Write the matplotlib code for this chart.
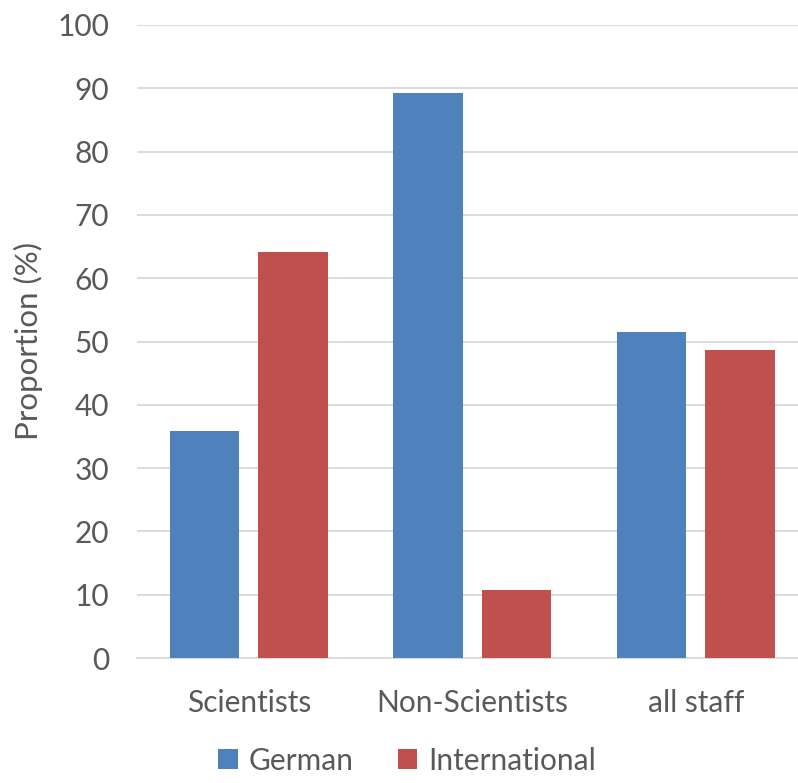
import numpy as np
import matplotlib.pyplot as plt

plt.rcParams['font.family'] = ['Lato', 'DejaVu Sans']

categories = ["Scientists", "Non-Scientists", "all staff"]
german = [35.9, 89.3, 51.5]
international = [64.1, 10.7, 48.6]
yticks = [0, 10, 20, 30, 40, 50, 60, 70, 80, 90, 100]

grey = "#595959"
fig = plt.figure(figsize=(7.98, 7.83), dpi=100)
ax = fig.add_axes([137 / 798, 1 - 658 / 783, 661 / 798, 633 / 783])

x = np.arange(len(categories))
w = 0.309
off = 0.198
ax.bar(x - off, german, w, color="#4F81BD", label="German", zorder=3)
ax.bar(x + off, international, w, color="#C0504D", label="International", zorder=3)

ax.set_xlim(-0.5, -0.5 + 661 / 223.5)
ax.set_ylim(0, 100)
ax.set_yticks(yticks)
ax.set_xticks(x)
ax.set_xticklabels(categories)
ax.yaxis.grid(True, color="#D9D9D9", linewidth=1.3, zorder=0)
ax.tick_params(length=0, labelsize=21.5, labelcolor=grey)
ax.tick_params(axis="y", pad=20)
ax.tick_params(axis="x", pad=22)
for s in ["top", "right", "left"]:
    ax.spines[s].set_visible(False)
ax.spines["bottom"].set_color("#D9D9D9")
ax.spines["bottom"].set_linewidth(1.3)

ax.set_ylabel("Proportion (%)", fontsize=22.5, color=grey, labelpad=10)

fig.legend(loc="upper center", bbox_to_anchor=(0.51, 0.05), ncol=2, frameon=False,
           fontsize=21.5, labelcolor=grey, handlelength=0.65, handleheight=0.65,
           handletextpad=0.35, columnspacing=1.5, borderaxespad=0.0,
           borderpad=0.1)

fig.savefig("out.png", dpi=100)
